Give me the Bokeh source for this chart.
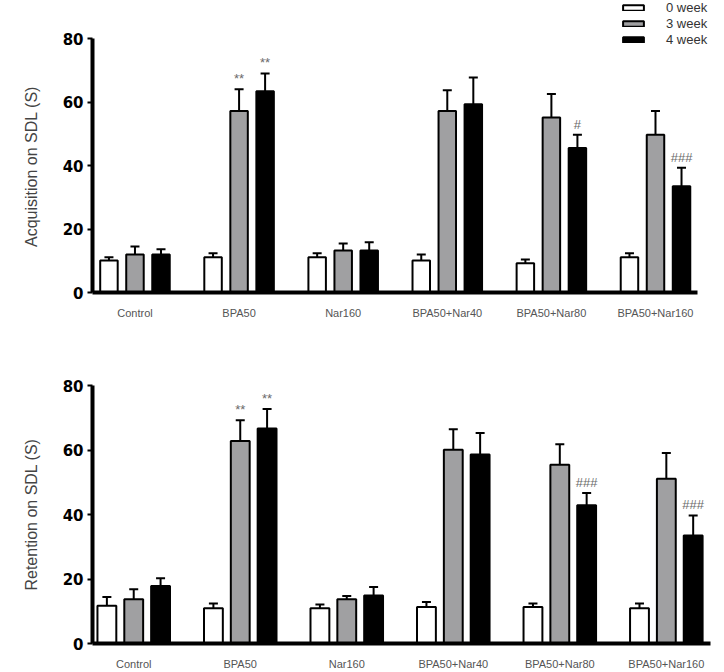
from bokeh.plotting import figure
from bokeh.models import (Range1d, FixedTicker, ColumnDataSource, Whisker, TeeHead,
                          Legend, LegendItem)
from bokeh.layouts import column
from bokeh.embed import file_html
from bokeh.resources import INLINE
from bokeh.core.properties import value

groups = ["Control", "BPA50", "Nar160", "BPA50+Nar40", "BPA50+Nar80", "BPA50+Nar160"]
series_names = ["0 week", "3 week", "4 week"]

acq_w0 = [10.1, 11.1, 11.1, 10.1, 9.2, 11.1]
acq_w0_err = [1.0, 1.3, 1.3, 1.9, 1.2, 1.3]
acq_w3 = [12.0, 57.2, 13.2, 57.2, 55.1, 49.7]
acq_w3_err = [2.5, 6.8, 2.2, 6.5, 7.4, 7.5]
acq_w4 = [12.0, 63.4, 13.2, 59.3, 45.5, 33.5]
acq_w4_err = [1.6, 5.6, 2.6, 8.4, 4.2, 5.8]
acq_w3_marks = ["", "**", "", "", "", ""]
acq_w4_marks = ["", "**", "", "", "#", "###"]

ret_w0 = [11.7, 10.9, 10.9, 11.3, 11.3, 10.9]
ret_w0_err = [2.7, 1.5, 1.2, 1.6, 1.1, 1.5]
ret_w3 = [13.7, 62.8, 13.7, 60.1, 55.4, 51.1]
ret_w3_err = [3.1, 6.4, 1.0, 6.3, 6.4, 8.0]
ret_w4 = [17.8, 66.7, 14.9, 58.6, 42.9, 33.5]
ret_w4_err = [2.4, 6.0, 2.6, 6.7, 3.8, 6.2]
ret_w3_marks = ["", "**", "", "", "", ""]
ret_w4_marks = ["", "**", "", "", "###", "###"]

y_ticks = [0, 20, 40, 60, 80]

FILLS = ["white", "#a0a0a2", "black"]
NBSP = "\u00a0"


def make_panel(title, vals, errs, marks, width, height, x_range, y_end, x_bound_end,
               border_left, border_top, border_bottom, bar_w, offset, with_legend=False):
    p = figure(width=width, height=height, x_range=Range1d(*x_range), y_range=Range1d(0, y_end),
               output_backend="svg", toolbar_location=None,
               min_border_left=border_left, min_border_right=0, min_border_top=border_top,
               min_border_bottom=border_bottom)
    p.outline_line_color = None
    p.xgrid.grid_line_color = None
    p.ygrid.grid_line_color = None
    p.background_fill_color = "white"
    p.border_fill_color = "white"

    renderers = []
    for k in range(3):
        xs = [i + (k - 1) * offset for i in range(len(groups))]
        tops = vals[k]
        ups = [v + e for v, e in zip(vals[k], errs[k])]
        src = ColumnDataSource(dict(x=xs, top=tops, upper=ups, mark=marks[k]))
        w = Whisker(source=src, base="x", upper="upper", lower="top", dimension="height",
                    line_color="black", line_width=2,
                    upper_head=TeeHead(size=9, line_width=2, line_color="black"),
                    lower_head=None)
        p.add_layout(w)
        r = p.vbar(x="x", top="top", bottom=0, width=bar_w, source=src,
                   fill_color=FILLS[k], line_color="black", line_width=2)
        renderers.append(r)
        if any(marks[k]):
            p.text(x="x", y="upper", text="mark", source=src, text_align="center",
                   text_baseline="bottom", y_offset=-3, text_color="#6a6a6a",
                   text_font=value("Liberation Sans"), text_font_size="13px")

    p.yaxis.ticker = FixedTicker(ticks=y_ticks)
    p.yaxis.bounds = (0, 80)
    p.yaxis.axis_line_width = 4
    p.yaxis.major_tick_line_width = 2
    p.yaxis.major_tick_out = 5
    p.yaxis.major_tick_in = 0
    p.yaxis.minor_tick_line_color = None
    p.yaxis.major_label_text_font = "DejaVu Sans"
    p.yaxis.major_label_text_font_style = "bold"
    p.yaxis.major_label_text_font_size = "15px"
    p.yaxis.major_label_text_color = "black"
    p.yaxis.major_label_standoff = 4
    p.yaxis.axis_label = title
    p.yaxis.axis_label_text_font = "Liberation Sans"
    p.yaxis.axis_label_text_font_style = "normal"
    p.yaxis.axis_label_text_font_size = "16px"
    p.yaxis.axis_label_standoff = 20

    p.xaxis.ticker = FixedTicker(ticks=list(range(len(groups))))
    p.xaxis.major_label_overrides = {i: g for i, g in enumerate(groups)}
    p.xaxis.bounds = (x_range[0], x_bound_end)
    p.xaxis.axis_line_width = 4
    p.xaxis.major_tick_line_color = None
    p.xaxis.minor_tick_line_color = None
    p.xaxis.major_label_text_font = "Liberation Sans"
    p.xaxis.major_label_text_font_size = "11px"
    p.xaxis.major_label_text_color = "#555555"
    p.xaxis.major_label_standoff = 8

    if with_legend:
        legend = Legend(items=[LegendItem(label=series_names[k], renderers=[renderers[k]])
                               for k in range(3)],
                        location=(528, 245), orientation="vertical",
                        glyph_width=26, glyph_height=7, label_height=13, spacing=1,
                        label_standoff=20, padding=0, margin=0,
                        border_line_color=None, background_fill_alpha=0,
                        label_text_font="Liberation Sans",
                        label_text_font_size="13px", label_text_color="#333333")
        p.add_layout(legend)
    return p


# top panel: plot frame reaches the top edge so the legend fits inside it;
# trailing no-break spaces move the centred axis title down beside the 0-80 axis
p1 = make_panel("Acquisition on SDL (S)" + NBSP * 9, [acq_w0, acq_w3, acq_w4],
                [acq_w0_err, acq_w3_err, acq_w4_err], [[""] * 6, acq_w3_marks, acq_w4_marks],
                width=716, height=322, x_range=(-0.408, 5.586), y_end=91.97,
                x_bound_end=5.40, border_left=92, border_top=0, border_bottom=30,
                bar_w=0.168, offset=0.25, with_legend=True)

p2 = make_panel("Retention on SDL (S)", [ret_w0, ret_w3, ret_w4],
                [ret_w0_err, ret_w3_err, ret_w4_err], [[""] * 6, ret_w3_marks, ret_w4_marks],
                width=716, height=350, x_range=(-0.387, 5.471), y_end=80,
                x_bound_end=5.415, border_left=88, border_top=63, border_bottom=26,
                bar_w=0.177, offset=0.252)

layout = column(p1, p2, spacing=0)

open("out.html", "w").write(file_html(layout, INLINE))
